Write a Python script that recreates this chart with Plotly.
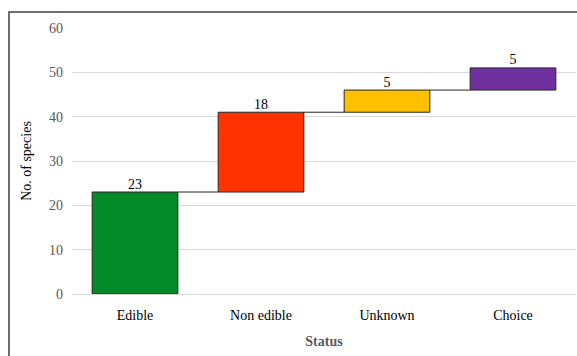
import plotly.graph_objects as go
import numpy as np

categories = ["Edible", "Non edible", "Unknown", "Choice"]
values = [23, 18, 5, 5]
colors = ["#038A29", "#FF3300", "#FFC000", "#7030A0"]

vals = np.array(values)
ends = np.cumsum(vals)
bases = ends - vals
xpos = np.arange(len(categories))
bw = 0.68

SERIF = "Liberation Serif, Times New Roman, DejaVu Serif, serif"

fig = go.Figure()
# connectors
cx, cy = [], []
for i in range(len(categories) - 1):
    cx += [xpos[i] + bw / 2, xpos[i + 1] - bw / 2, None]
    cy += [ends[i], ends[i], None]
fig.add_trace(go.Scatter(x=cx, y=cy, mode="lines", line=dict(color="#262626", width=1),
                         hoverinfo="skip", showlegend=False))
fig.add_trace(go.Bar(
    x=xpos, y=vals, base=bases, width=bw,
    marker=dict(color=colors, line=dict(color="#262626", width=1)),
    showlegend=False,
))
fig.add_trace(go.Scatter(
    x=xpos, y=ends, mode="text", text=[str(v) for v in values],
    textposition="top center",
    textfont=dict(family=SERIF, size=14, color="#000000"),
    cliponaxis=False, showlegend=False, hoverinfo="skip",
))

fig.update_layout(
    width=577, height=356,
    margin=dict(l=72, r=1, t=28, b=62),
    paper_bgcolor="white", plot_bgcolor="white",
    font=dict(family=SERIF, size=14, color="#000"),
    xaxis=dict(range=[-0.5, 3.5], tickvals=list(xpos), ticktext=categories,
               showgrid=False, zeroline=False, showline=True, linecolor="#d9d9d9",
               tickfont=dict(family=SERIF, size=14, color="#000"),
               ticks="", ticklabelstandoff=8,
               title=dict(text="<b>Status</b>", font=dict(family=SERIF, size=14, color="#595959"),
                          standoff=14)),
    yaxis=dict(range=[0, 60], dtick=10, showgrid=True, gridcolor="#d9d9d9", gridwidth=1,
               zeroline=False, showline=False, ticks="",
               tickfont=dict(family=SERIF, size=14, color="#595959"),
               ticklabelstandoff=8,
               title=dict(text="No. of species", font=dict(family=SERIF, size=14, color="#000"),
                          standoff=14)),
    shapes=[dict(type="rect", xref="paper", yref="paper", x0=-0.125, x1=1.2, y0=-0.6, y1=1.0602,
                 line=dict(color="#404040", width=1.5), fillcolor="rgba(0,0,0,0)", layer="below")],
)

fig.write_html("out.html")
